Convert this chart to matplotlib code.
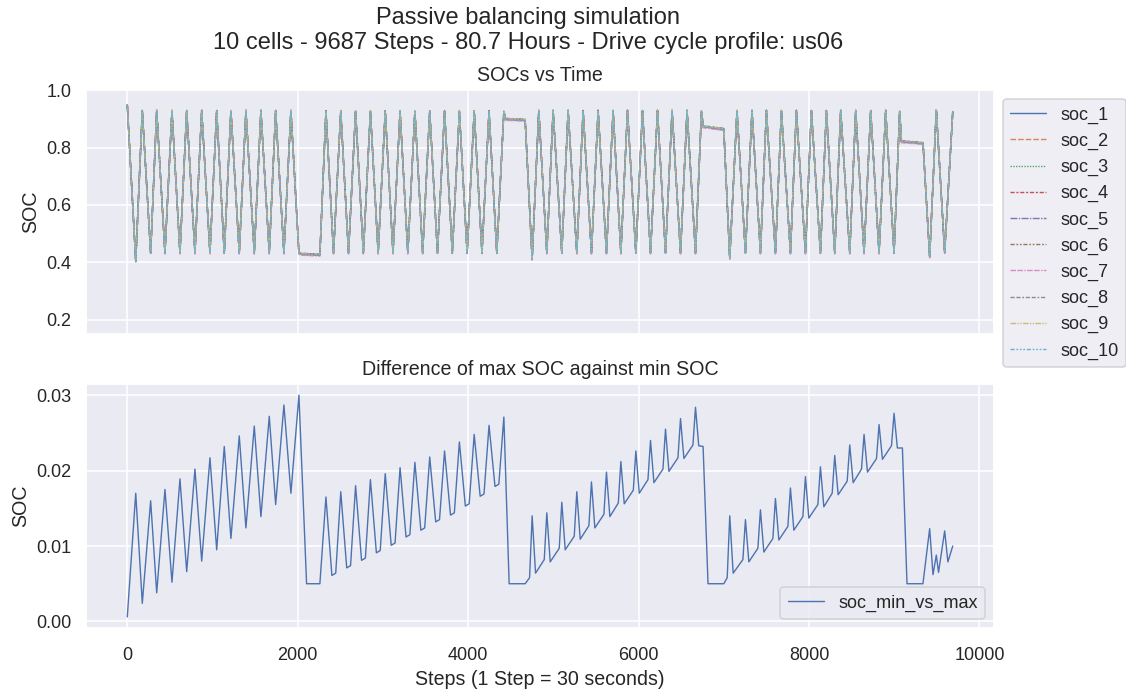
import matplotlib
matplotlib.use("Agg")
import numpy as np
import matplotlib.pyplot as plt
from matplotlib.ticker import MultipleLocator, FormatStrFormatter
import seaborn as sns

# ------------------------------------------------------------------
# Data (turning points of the curves)
# ------------------------------------------------------------------
soc_steps = [
    0, 99, 176, 274, 345, 442, 524, 618, 697, 794, 873, 970, 1049, 1138,
    1216, 1314, 1392, 1490, 1568, 1666, 1741, 1838, 1920, 2014, 2040, 2260,
    2331, 2420, 2505, 2596, 2679, 2770, 2853, 2944, 3027, 3118, 3201, 3292,
    3375, 3466, 3549, 3640, 3723, 3814, 3897, 3988, 4071, 4162, 4245, 4336,
    4419, 4440, 4669,
    4751, 4829, 4923, 4997, 5099, 5173, 5275, 5349, 5447, 5525, 5623, 5701,
    5792, 5870, 5968, 6046, 6140, 6222, 6316, 6393, 6492, 6569, 6668, 6738,
    6760, 7000,
    7070, 7155, 7254, 7331, 7430, 7500, 7606, 7676, 7782, 7852, 7958, 8028,
    8134, 8204, 8302, 8372, 8478, 8548, 8646, 8724, 8822, 8900, 8998, 9064,
    9085, 9338,
    9416, 9494, 9592, 9687,
]
soc_values = [
    0.948, 0.404, 0.928, 0.433, 0.928, 0.433, 0.928, 0.433, 0.928, 0.433,
    0.928, 0.433, 0.928, 0.433, 0.928, 0.433, 0.928, 0.433, 0.928, 0.433,
    0.928, 0.433, 0.928, 0.432, 0.429, 0.426,
    0.926, 0.433, 0.926, 0.433, 0.926, 0.433, 0.926, 0.433, 0.926, 0.433,
    0.926, 0.433, 0.926, 0.433, 0.926, 0.433, 0.926, 0.433, 0.926, 0.433,
    0.926, 0.433, 0.926, 0.433, 0.925, 0.899, 0.896,
    0.412, 0.928, 0.433, 0.928, 0.433, 0.928, 0.433, 0.928, 0.433, 0.928,
    0.433, 0.928, 0.433, 0.928, 0.433, 0.928, 0.433, 0.928, 0.433, 0.928,
    0.433, 0.928, 0.433, 0.925, 0.873, 0.864,
    0.415, 0.928, 0.433, 0.928, 0.433, 0.928, 0.433, 0.928, 0.433, 0.928,
    0.433, 0.928, 0.433, 0.928, 0.433, 0.928, 0.433, 0.928, 0.433, 0.928,
    0.433, 0.928, 0.433, 0.925, 0.821, 0.815,
    0.420, 0.930, 0.435, 0.925,
]
# small spread between the ten cells
cell_offsets = [0.0, 0.002, -0.002, 0.001, -0.001, 0.003, -0.004, 0.0, 0.002, 0.001]

diff_steps = [
    0, 99, 176, 274, 345, 442, 524, 618, 697, 794, 873, 970, 1049, 1138,
    1216, 1314, 1392, 1490, 1568, 1666, 1741, 1838, 1920, 2014, 2104, 2260,
    2331, 2401, 2446, 2505, 2575, 2620, 2679, 2749, 2794, 2853, 2923, 2968,
    3027, 3097, 3142, 3201, 3271, 3316, 3375, 3445, 3490, 3549, 3619, 3664,
    3723, 3793, 3838, 3897, 3967, 4012, 4071, 4141, 4186, 4245, 4315, 4360,
    4419, 4481, 4669,
    4721, 4751, 4791, 4893, 4923, 4963, 5069, 5099, 5139, 5245, 5275, 5315,
    5417, 5447, 5487, 5593, 5623, 5663, 5762, 5792, 5832, 5938, 5968, 6008,
    6110, 6140, 6180, 6286, 6316, 6356, 6462, 6492, 6532, 6638, 6668, 6706,
    6757, 6815, 7000,
    7040, 7070, 7110, 7224, 7254, 7294, 7400, 7430, 7470, 7576, 7606, 7646,
    7752, 7782, 7822, 7928, 7958, 7998, 8104, 8134, 8174, 8272, 8302, 8342,
    8448, 8478, 8518, 8616, 8646, 8686, 8792, 8822, 8862, 8968, 8998, 9037,
    9096, 9150, 9337,
    9416, 9455, 9494, 9520, 9592, 9630, 9687,
]
diff_values = [
    0.0006, 0.0170, 0.0024, 0.0160, 0.0038, 0.0175, 0.0052, 0.0189, 0.0066,
    0.0202, 0.0080, 0.0217, 0.0095, 0.0232, 0.0110, 0.0246, 0.0124, 0.0259,
    0.0139, 0.0272, 0.0155, 0.0287, 0.0170, 0.0300, 0.0050, 0.0050,
    0.0165, 0.0061, 0.0064, 0.0172, 0.0071, 0.0074, 0.0180, 0.0081, 0.0084,
    0.0188, 0.0091, 0.0094, 0.0196, 0.0101, 0.0104, 0.0204, 0.0112, 0.0115,
    0.0211, 0.0121, 0.0124, 0.0218, 0.0132, 0.0135, 0.0226, 0.0141, 0.0144,
    0.0238, 0.0153, 0.0156, 0.0248, 0.0166, 0.0169, 0.0260, 0.0179, 0.0182,
    0.0271, 0.0050, 0.0050,
    0.0058, 0.0140, 0.0064, 0.0082, 0.0144, 0.0079, 0.0097, 0.0158, 0.0095,
    0.0113, 0.0172, 0.0109, 0.0127, 0.0185, 0.0124, 0.0142, 0.0198, 0.0139,
    0.0157, 0.0212, 0.0156, 0.0174, 0.0226, 0.0170, 0.0188, 0.0240, 0.0184,
    0.0202, 0.0255, 0.0199, 0.0217, 0.0269, 0.0216, 0.0234, 0.0284, 0.0233,
    0.0232, 0.0050, 0.0050,
    0.0058, 0.0140, 0.0064, 0.0082, 0.0135, 0.0079, 0.0097, 0.0148, 0.0092,
    0.0110, 0.0163, 0.0108, 0.0126, 0.0177, 0.0121, 0.0139, 0.0192, 0.0137,
    0.0155, 0.0205, 0.0152, 0.0170, 0.0220, 0.0168, 0.0186, 0.0234, 0.0184,
    0.0202, 0.0248, 0.0198, 0.0216, 0.0261, 0.0215, 0.0233, 0.0276, 0.0230,
    0.0230, 0.0050, 0.0050,
    0.0123, 0.0062, 0.0088, 0.0065, 0.0120, 0.0079, 0.0100,
]

n_cells = 10
n_steps = 9687
hours = 80.7
profile = "us06"

# seaborn style "dashes" for ten lines
dash_list = [
    "",
    (4, 1.5),
    (1, 1),
    (3, 1.25, 1.5, 1.25),
    (5, 1, 1, 1),
    (3, 1.25, 1.25, 1.25, 1.25, 1.25),
    (4, 1, 4, 1, 1, 1),
    (3, 1.25, 3, 1.25, 1.25, 1.25),
    (4, 1, 1, 1, 1, 1),
    (3, 1.25, 1.25, 1.25, 1.25, 1.25, 1.25, 1.25),
]

# ------------------------------------------------------------------
# Plot
# ------------------------------------------------------------------
sns.set_theme(style="darkgrid", font_scale=1.065)
plt.rcParams["font.family"] = ["Liberation Sans", "DejaVu Sans"]

dpi = 111
fig, (ax1, ax2) = plt.subplots(2, 1, sharex=True, figsize=(1126 / dpi, 694 / dpi), dpi=dpi)
fig.subplots_adjust(left=0.0764, right=0.8828, top=0.870, bottom=0.0951, hspace=0.205)

colors = sns.color_palette("deep", n_cells)
for i in range(n_cells):
    cell = np.array(soc_values) + cell_offsets[i]
    ax1.plot(soc_steps, cell, color=colors[i], lw=0.9,
             dashes=dash_list[i] if dash_list[i] else (None, None),
             label=f"soc_{i + 1}")
ax1.set_ylim(0.15, 1.0)
ax1.set_ylabel("SOC")
ax1.set_title("SOCs vs Time")
ax1.legend(loc="upper left", bbox_to_anchor=(1.0, 1.0))

ax2.plot(diff_steps, diff_values, color=colors[0], lw=0.9, label="soc_min_vs_max")
ax2.yaxis.set_major_locator(MultipleLocator(0.01))
ax2.yaxis.set_major_formatter(FormatStrFormatter("%.2f"))
ax2.tick_params(axis="x", pad=6)
ax2.set_ylabel("SOC")
ax2.set_title("Difference of max SOC against min SOC")
ax2.set_xlabel("Steps (1 Step = 30 seconds)")
ax2.legend(loc="lower right")

fig.suptitle(
    f"Passive balancing simulation\n{n_cells} cells - {n_steps} Steps - {hours} Hours - Drive cycle profile: {profile}",
    x=0.469, y=0.99,
)

fig.savefig("out.png", dpi=dpi)
